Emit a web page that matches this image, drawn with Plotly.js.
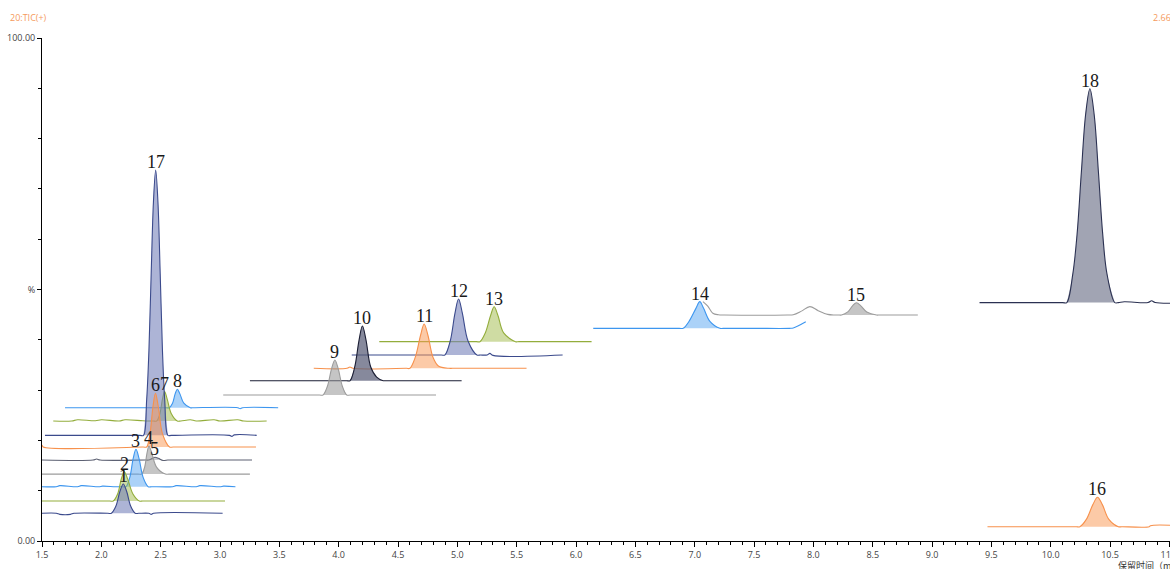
<!DOCTYPE html>
<html>
<head>
<meta charset="utf-8">
<script src="https://cdn.plot.ly/plotly-3.0.1.min.js"></script>
<style>html,body{margin:0;padding:0;background:#fff;}#chart{width:1170px;height:569px;}</style>
</head>
<body>
<div id="chart"></div>
<script>
// ---- Data (retention time in min, relative intensity in %) ----
// Chromatograms listed back-to-front. Each: baseline before peak (lead), peak, baseline after (tail).

// 18
const lead18X = [9.40, 10.10], lead18Y = [47.4, 47.4];
const peak18X = [10.135, 10.186, 10.222, 10.258, 10.294, 10.33, 10.366, 10.402, 10.438, 10.474, 10.54];
const peak18Y = [47.4, 53.1, 61.0, 73.3, 84.8, 89.9, 84.8, 73.3, 61.0, 53.1, 47.4];
const tail18X = [10.57, 10.62, 10.82, 10.85, 10.88, 11.1], tail18Y = [47.4, 47.55, 47.4, 47.75, 47.4, 47.3];
// 15
const lead15X = [7.069, 7.11, 7.153, 7.20, 7.25, 7.78, 7.83, 7.90, 7.97, 8.04, 8.12, 8.18, 8.21];
const lead15Y = [47.6, 46.7, 45.27, 44.97, 44.93, 44.93, 44.98, 45.7, 46.6, 45.8, 45.05, 44.93, 44.93];
const peak15X = [8.237, 8.29, 8.33, 8.363, 8.40, 8.45, 8.532];
const peak15Y = [44.93, 45.54, 46.76, 47.37, 46.76, 45.54, 44.93];
const tail15X = [8.56, 8.88], tail15Y = [44.93, 44.93];
// 14
const lead14X = [6.145, 6.87], lead14Y = [42.28, 42.28];
const peak14X = [6.903, 6.95, 7.01, 7.043, 7.075, 7.13, 7.212];
const peak14Y = [42.28, 43.6, 46.25, 47.58, 46.25, 43.6, 42.28];
const tail14X = [7.24, 7.50, 7.80, 7.83, 7.936], tail14Y = [42.28, 42.28, 42.28, 42.35, 43.6];
// 13
const lead13X = [4.342, 5.16], lead13Y = [39.63, 39.63];
const peak13X = [5.19, 5.235, 5.28, 5.31, 5.342, 5.39, 5.49];
const peak13Y = [39.63, 41.37, 44.84, 46.58, 44.84, 41.37, 39.63];
const tail13X = [5.52, 6.131], tail13Y = [39.63, 39.63];
// 12
const lead12X = [4.11, 4.865], lead12Y = [36.98, 36.98];
const peak12X = [4.895, 4.94, 4.98, 5.01, 5.042, 5.09, 5.165];
const peak12Y = [36.98, 39.76, 45.32, 48.1, 45.32, 39.76, 36.98];
const tail12X = [5.195, 5.25, 5.274, 5.30, 5.887], tail12Y = [36.98, 36.98, 37.3, 36.9, 36.98];
// 11
const lead11X = [3.79, 4.07, 4.095, 4.12, 4.57], lead11Y = [34.33, 34.33, 34.6, 34.33, 34.33];
const peak11X = [4.60, 4.645, 4.69, 4.72, 4.752, 4.795, 4.84, 4.93];
const peak11Y = [34.33, 36.5, 40.9, 43.14, 40.9, 36.5, 34.8, 34.33];
const tail11X = [4.96, 5.583], tail11Y = [34.33, 34.33];
// 10
const lead10X = [3.252, 4.065], lead10Y = [31.87, 31.87];
const peak10X = [4.095, 4.135, 4.172, 4.20, 4.23, 4.27, 4.32, 4.375];
const peak10Y = [31.87, 34.6, 40.0, 42.74, 40.0, 34.6, 32.6, 31.87];
const tail10X = [4.405, 5.036], tail10Y = [31.87, 31.87];
// 9
const lead9X = [3.027, 3.838], lead9Y = [29.03, 29.03];
const peak9X = [3.868, 3.905, 3.94, 3.968, 3.996, 4.031, 4.068];
const peak9Y = [29.03, 30.77, 34.24, 35.98, 34.24, 30.77, 29.03];
const tail9X = [4.098, 4.82], tail9Y = [29.03, 29.03];
// 8
const lead8X = [1.694, 2.542], lead8Y = [26.5, 26.5];
const peak8X = [2.572, 2.60, 2.622, 2.64, 2.662, 2.695, 2.75];
const peak8Y = [26.5, 27.4, 29.25, 30.16, 29.25, 27.4, 26.5];
const tail8X = [2.78, 3.15, 3.17, 3.19, 3.49], tail8Y = [26.5, 26.5, 26.3, 26.5, 26.5];
// 7
const lead7X = [1.595, 1.75, 1.80, 1.95, 2.00, 2.15, 2.20, 2.35, 2.40, 2.436];
const lead7Y = [23.86, 23.86, 24.1, 23.9, 24.1, 23.86, 24.1, 23.9, 23.86, 23.86];
const peak7X = [2.466, 2.493, 2.515, 2.533, 2.555, 2.59, 2.64];
const peak7Y = [23.86, 25.3, 28.2, 29.7, 28.2, 25.3, 23.86];
const tail7X = [2.67, 2.75, 2.80, 2.95, 3.00, 3.15, 3.20, 3.393];
const tail7Y = [23.86, 24.1, 23.86, 24.1, 23.86, 24.1, 23.86, 23.86];
// 17
const lead17X = [1.525, 2.325], lead17Y = [21.0, 21.0];
const peak17X = [2.355, 2.382, 2.401, 2.42, 2.439, 2.458, 2.477, 2.496, 2.515, 2.534, 2.561];
const peak17Y = [21.0, 28.1, 37.9, 53.2, 67.4, 73.76, 67.4, 53.2, 37.9, 28.1, 21.0];
const tail17X = [2.59, 3.08, 3.10, 3.12, 3.309], tail17Y = [21.0, 21.0, 20.8, 21.1, 21.0];
// 6
const lead6X = [1.50, 1.51, 2.352], lead6Y = [19.1, 18.69, 18.69];
const peak6X = [2.382, 2.41, 2.435, 2.456, 2.48, 2.515, 2.575];
const peak6Y = [18.69, 21.36, 26.69, 29.36, 26.69, 21.36, 18.69];
const tail6X = [2.605, 3.303], tail6Y = [18.69, 18.69];
// 5
const lead5X = [1.50, 1.93, 1.96, 1.99, 2.37], lead5Y = [16.1, 16.1, 16.3, 16.1, 16.1];
const peak5X = [2.40, 2.43, 2.452, 2.48, 2.52, 2.56];
const peak5Y = [16.1, 16.45, 16.65, 16.45, 16.0, 16.1];
const tail5X = [2.59, 3.27], tail5Y = [16.1, 16.1];
// 4
const lead4X = [1.50, 2.31], lead4Y = [13.3, 13.3];
const peak4X = [2.34, 2.365, 2.385, 2.401, 2.425, 2.465, 2.54];
const peak4Y = [13.3, 14.7, 17.5, 18.9, 17.5, 14.7, 13.3];
const tail4X = [2.57, 3.252], tail4Y = [13.3, 13.3];
// 3
const lead3X = [1.50, 1.62, 1.65, 1.80, 1.83, 1.98, 2.01, 2.12, 2.177];
const lead3Y = [10.8, 10.8, 11.0, 10.8, 11.0, 10.8, 10.9, 10.8, 10.8];
const peak3X = [2.207, 2.24, 2.268, 2.292, 2.318, 2.352, 2.395];
const peak3Y = [10.8, 12.66, 16.37, 18.23, 16.37, 12.66, 10.8];
const tail3X = [2.425, 2.60, 2.63, 2.80, 2.83, 3.00, 3.03, 3.13];
const tail3Y = [10.8, 10.8, 11.0, 10.8, 11.0, 10.8, 10.9, 10.8];
// 2
const lead2X = [1.50, 2.07], lead2Y = [7.95, 7.95];
const peak2X = [2.10, 2.138, 2.168, 2.193, 2.222, 2.265, 2.32];
const peak2Y = [7.95, 9.41, 12.32, 13.78, 12.32, 9.41, 7.95];
const tail2X = [2.35, 3.042], tail2Y = [7.95, 7.95];
// 1
const lead1X = [1.50, 1.62, 1.65, 1.74, 1.77, 2.055], lead1Y = [5.51, 5.51, 5.3, 5.3, 5.51, 5.51];
const peak1X = [2.085, 2.123, 2.157, 2.185, 2.213, 2.247, 2.285];
const peak1Y = [5.51, 6.97, 9.88, 11.33, 9.88, 6.97, 5.51];
const tail1X = [2.315, 2.40, 2.42, 2.44, 3.022], tail1Y = [5.51, 5.51, 5.3, 5.51, 5.51];
// 16
const lead16X = [9.467, 10.215], lead16Y = [2.84, 2.84];
const peak16X = [10.245, 10.30, 10.355, 10.394, 10.435, 10.49, 10.57];
const peak16Y = [2.84, 4.3, 7.23, 8.69, 7.23, 4.3, 2.84];
const tail16X = [10.60, 10.83, 10.84, 11.1], tail16Y = [2.84, 2.84, 3.05, 3.05];

const peakLabels = ['18','15','14','13','12','11','10','9','8','7','17','6','5','4','3','2','1','16'];

// ---- Styles ----
const STY = {
  navy:  {line: '#3b4a8c', fill: 'rgba(118,130,186,0.6)'},
  dark:  {line: '#1b1e34', fill: 'rgba(88,92,118,0.72)'},
  slate: {line: '#2b3152', fill: 'rgba(108,112,136,0.64)'},
  olive: {line: '#93ad3c', fill: 'rgba(160,186,72,0.5)'},
  blue:  {line: '#3d96ef', fill: 'rgba(88,166,242,0.5)'},
  orange:{line: '#f7914c', fill: 'rgba(250,150,80,0.5)'},
  gray:  {line: '#9c9c9c', fill: 'rgba(150,150,150,0.55)'},
  dgray: {line: '#5d6173', fill: 'rgba(120,122,135,0.4)'}
};
const styleOrder = ['slate','gray','blue','olive','navy','orange','dark','gray','blue','olive','navy','orange','dgray','gray','blue','olive','navy','orange'];

const chroms = [
  [lead18X, lead18Y, peak18X, peak18Y, tail18X, tail18Y],
  [lead15X, lead15Y, peak15X, peak15Y, tail15X, tail15Y],
  [lead14X, lead14Y, peak14X, peak14Y, tail14X, tail14Y],
  [lead13X, lead13Y, peak13X, peak13Y, tail13X, tail13Y],
  [lead12X, lead12Y, peak12X, peak12Y, tail12X, tail12Y],
  [lead11X, lead11Y, peak11X, peak11Y, tail11X, tail11Y],
  [lead10X, lead10Y, peak10X, peak10Y, tail10X, tail10Y],
  [lead9X, lead9Y, peak9X, peak9Y, tail9X, tail9Y],
  [lead8X, lead8Y, peak8X, peak8Y, tail8X, tail8Y],
  [lead7X, lead7Y, peak7X, peak7Y, tail7X, tail7Y],
  [lead17X, lead17Y, peak17X, peak17Y, tail17X, tail17Y],
  [lead6X, lead6Y, peak6X, peak6Y, tail6X, tail6Y],
  [lead5X, lead5Y, peak5X, peak5Y, tail5X, tail5Y],
  [lead4X, lead4Y, peak4X, peak4Y, tail4X, tail4Y],
  [lead3X, lead3Y, peak3X, peak3Y, tail3X, tail3Y],
  [lead2X, lead2Y, peak2X, peak2Y, tail2X, tail2Y],
  [lead1X, lead1Y, peak1X, peak1Y, tail1X, tail1Y],
  [lead16X, lead16Y, peak16X, peak16Y, tail16X, tail16Y]
];

const traces = [];
const annotations = [];
chroms.forEach((c, i) => {
  const st = STY[styleOrder[i]];
  // filled peak area
  traces.push({
    type: 'scatter', mode: 'lines', x: c[2], y: c[3],
    fill: 'toself', fillcolor: st.fill,
    line: {width: 0, shape: 'spline', smoothing: 1, color: st.fill},
    hoverinfo: 'skip'
  });
  // chromatogram line
  traces.push({
    type: 'scatter', mode: 'lines',
    x: c[0].concat(c[2], c[4]), y: c[1].concat(c[3], c[5]),
    line: {width: 1.1, shape: 'spline', smoothing: 1, color: st.line},
    hoverinfo: 'skip'
  });
  // label at apex
  let k = 0;
  c[3].forEach((v, j) => { if (v > c[3][k]) k = j; });
  annotations.push({
    x: c[2][k], y: c[3][k], xref: 'x', yref: 'y', text: peakLabels[i],
    showarrow: false, xanchor: 'center', yanchor: 'bottom', yshift: -4,
    font: {family: 'Liberation Serif, serif', size: 18, color: '#1a1a1a'}
  });
});

const W = 1170, H = 569, L = 42, R = 0, T = 38, B = 28;
const pw = W - L - R, ph = H - T - B;
const px = v => (v - L) / pw, py = v => (H - B - v) / ph;

annotations.push(
  {xref: 'paper', yref: 'paper', x: px(8), y: py(18), xanchor: 'left', yanchor: 'middle', showarrow: false,
   text: '20:TIC(+)', font: {family: 'Open Sans, sans-serif', size: 9, color: '#f59a5c'}},
  {xref: 'paper', yref: 'paper', x: px(1151), y: py(18), xanchor: 'left', yanchor: 'middle', showarrow: false,
   text: '2.66e7', font: {family: 'Open Sans, sans-serif', size: 9, color: '#f59a5c'}},
  {xref: 'paper', yref: 'paper', x: px(1116), y: py(565), xanchor: 'left', yanchor: 'middle', showarrow: false,
   text: '保留时间（min）', font: {family: 'Noto Sans CJK SC, sans-serif', size: 9, color: '#333'}}
);

const layout = {
  width: W, height: H,
  margin: {l: L, r: R, t: T, b: B, pad: 0},
  paper_bgcolor: '#fff', plot_bgcolor: '#fff',
  showlegend: false,
  xaxis: {
    range: [1.5, 11.005], showline: true, linecolor: '#000', linewidth: 1,
    showgrid: false, zeroline: false,
    ticks: 'outside', ticklen: 5, tickwidth: 1, tickcolor: '#000',
    tick0: 1.5, dtick: 0.5, tickformat: '.1f',
    ticklabeloverflow: 'allow',
    tickfont: {family: 'Open Sans, sans-serif', size: 9, color: '#444'},
    minor: {tick0: 1.5, dtick: 0.1, ticks: 'outside', ticklen: 3, tickcolor: '#000', showgrid: false},
    fixedrange: true
  },
  yaxis: {
    range: [0, 100], showline: true, linecolor: '#000', linewidth: 1,
    showgrid: false, zeroline: false,
    ticks: 'outside', ticklen: 4, tickwidth: 1, tickcolor: '#000',
    tickvals: [0, 50, 100], ticktext: ['0.00', '%', '100.00'],
    tickfont: {family: 'Open Sans, sans-serif', size: 9, color: '#444'},
    minor: {tick0: 0, dtick: 10, ticks: 'outside', ticklen: 3, tickcolor: '#000', showgrid: false},
    fixedrange: true
  },
  annotations: annotations
};

Plotly.newPlot('chart', traces, layout, {staticPlot: true, displayModeBar: false});
</script>
</body>
</html>
